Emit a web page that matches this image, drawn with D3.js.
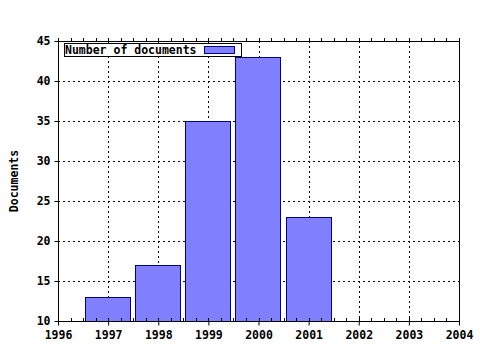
<!DOCTYPE html>
<html>
<head>
<meta charset="utf-8">
<script src="https://cdn.jsdelivr.net/npm/d3@7"></script>
<style>
  body { margin: 0; background: #fff; }
  text { font-family: "DejaVu Sans Mono", monospace; font-weight: bold; font-size: 11.5px; }
</style>
</head>
<body>
<svg id="chart" width="480" height="350"></svg>
<script>
// data
var years = [1997, 1998, 1999, 2000, 2001];
var docs = [13, 17, 35, 43, 23];
var xTicks = [1996, 1997, 1998, 1999, 2000, 2001, 2002, 2003, 2004];
var yTicks = [10, 15, 20, 25, 30, 35, 40, 45];
var seriesName = "Number of documents";

var m = { left: 58, right: 21, top: 41, bottom: 29 };
var W = 480, H = 350;
var w = W - m.left - m.right, h = H - m.top - m.bottom;

var svg = d3.select("#chart");
var g = svg.append("g").attr("transform", "translate(" + m.left + "," + m.top + ")");

var x = d3.scaleLinear().domain([1996, 2004]).range([0, w]);
var y = d3.scaleLinear().domain([10, 45]).range([h, 0]);
var barW = (x(1) - x(0)) * 0.9;

// grid
g.append("g").selectAll("line.gx")
	.data(xTicks.slice(1, -1))
	.enter().append("line")
	.attr("x1", function(d) { return Math.round(x(d)) + 0.5; })
	.attr("x2", function(d) { return Math.round(x(d)) + 0.5; })
	.attr("y1", 0).attr("y2", h)
	.attr("stroke", "#000").attr("stroke-dasharray", "2,3");
g.append("g").selectAll("line.gy")
	.data(yTicks.slice(1, -1))
	.enter().append("line")
	.attr("y1", function(d) { return y(d) + 0.5; })
	.attr("y2", function(d) { return y(d) + 0.5; })
	.attr("x1", 0).attr("x2", w)
	.attr("stroke", "#000").attr("stroke-dasharray", "2,3");

// bars
g.selectAll("rect.bar")
	.data(years)
	.enter().append("rect")
	.attr("class", "bar")
	.attr("x", function(d) { return Math.floor(x(d) - barW / 2) + 0.5; })
	.attr("y", function(d, i) { return Math.round(y(docs[i])) + 0.5; })
	.attr("width", Math.round(barW))
	.attr("height", function(d, i) { return Math.round(h - y(docs[i])); })
	.attr("fill", "#8080ff")
	.attr("stroke", "#00008b");

// frame
g.append("rect").attr("x", 0.5).attr("y", 0.5).attr("width", w).attr("height", h)
	.attr("fill", "none").attr("stroke", "#000");

// minor ticks on top and bottom
var minor = d3.range(1996, 2004.01, 0.25);
g.append("g").selectAll("line")
	.data(minor).enter().append("line")
	.attr("x1", function(d) { return Math.round(x(d)) + 0.5; })
	.attr("x2", function(d) { return Math.round(x(d)) + 0.5; })
	.attr("y1", 0).attr("y2", -3).attr("stroke", "#000");
g.append("g").selectAll("line")
	.data(minor).enter().append("line")
	.attr("x1", function(d) { return Math.round(x(d)) + 0.5; })
	.attr("x2", function(d) { return Math.round(x(d)) + 0.5; })
	.attr("y1", h).attr("y2", h - 3).attr("stroke", "#000");

// axes
var xAxis = d3.axisBottom(x).tickValues(xTicks).tickFormat(d3.format("d")).tickSize(4).tickPadding(5);
var gx = g.append("g").attr("transform", "translate(0," + (h + 0.5) + ")").call(xAxis);
gx.select(".domain").remove();
gx.selectAll("text").attr("font-family", null).attr("font-size", null);

var yAxis = d3.axisLeft(y).tickValues(yTicks).tickSize(4).tickPadding(4);
var gy = g.append("g").attr("transform", "translate(0.5,0)").call(yAxis);
gy.select(".domain").remove();
gy.selectAll("text").attr("font-family", null).attr("font-size", null);

// y label
svg.append("text")
	.attr("transform", "translate(18," + (m.top + h / 2) + ") rotate(-90)")
	.attr("text-anchor", "middle")
	.text("Documents");

// legend
var lg = svg.append("g");
lg.append("rect").attr("x", 64.5).attr("y", 43.5).attr("width", 177).attr("height", 13)
	.attr("fill", "#fff").attr("stroke", "#000");
lg.append("text").attr("x", 65).attr("y", 54).text(seriesName);
lg.append("rect").attr("x", 204.5).attr("y", 46.5).attr("width", 30).attr("height", 7)
	.attr("fill", "#8080ff").attr("stroke", "#00008b");
</script>
</body>
</html>
